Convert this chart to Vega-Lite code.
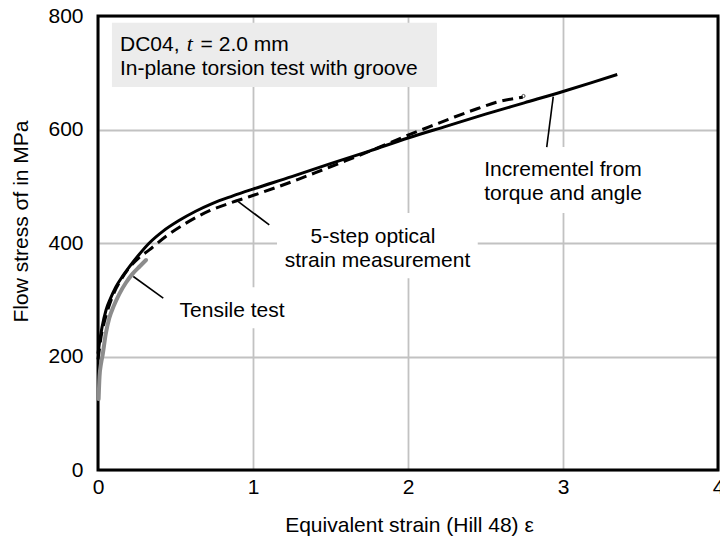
{
  "$schema": "https://vega.github.io/schema/vega-lite/v6.json",
  "width": 620,
  "height": 454,
  "autosize": "none",
  "padding": {"left": 98, "top": 16, "right": 2, "bottom": 72},
  "background": "white",
  "config": {
    "view": {"stroke": null},
    "font": "Liberation Sans",
    "axis": {
      "domain": false,
      "ticks": false,
      "labelFlush": false,
      "labelOverlap": false,
      "gridColor": "#c2c2c2",
      "gridWidth": 1.8,
      "labelFont": "Liberation Sans",
      "labelFontSize": 21,
      "labelColor": "#000",
      "titleFont": "Liberation Sans",
      "titleFontSize": 21,
      "titleFontWeight": "normal",
      "titleColor": "#000"
    }
  },
  "datasets": {
    "curves": [
      {"series": "Incremental", "strain": 0.0, "stress": 205},
      {"series": "Incremental", "strain": 0.01, "stress": 225},
      {"series": "Incremental", "strain": 0.025, "stress": 250},
      {"series": "Incremental", "strain": 0.052, "stress": 282},
      {"series": "Incremental", "strain": 0.08, "stress": 302},
      {"series": "Incremental", "strain": 0.116, "stress": 323},
      {"series": "Incremental", "strain": 0.16, "stress": 342},
      {"series": "Incremental", "strain": 0.202, "stress": 358},
      {"series": "Incremental", "strain": 0.26, "stress": 378},
      {"series": "Incremental", "strain": 0.331, "stress": 400},
      {"series": "Incremental", "strain": 0.42, "stress": 421},
      {"series": "Incremental", "strain": 0.525, "stress": 440},
      {"series": "Incremental", "strain": 0.63, "stress": 456},
      {"series": "Incremental", "strain": 0.74, "stress": 470},
      {"series": "Incremental", "strain": 0.87, "stress": 483},
      {"series": "Incremental", "strain": 1.0, "stress": 495},
      {"series": "Incremental", "strain": 1.25, "stress": 517},
      {"series": "Incremental", "strain": 1.5, "stress": 540},
      {"series": "Incremental", "strain": 1.75, "stress": 562},
      {"series": "Incremental", "strain": 2.0, "stress": 585},
      {"series": "Incremental", "strain": 2.25, "stress": 606},
      {"series": "Incremental", "strain": 2.5, "stress": 627},
      {"series": "Incremental", "strain": 2.75, "stress": 647},
      {"series": "Incremental", "strain": 3.0, "stress": 667},
      {"series": "Incremental", "strain": 3.2, "stress": 684},
      {"series": "Incremental", "strain": 3.35, "stress": 697},
      {"series": "Optical", "strain": 0.0, "stress": 195},
      {"series": "Optical", "strain": 0.01, "stress": 215},
      {"series": "Optical", "strain": 0.02, "stress": 235},
      {"series": "Optical", "strain": 0.04, "stress": 260},
      {"series": "Optical", "strain": 0.07, "stress": 288},
      {"series": "Optical", "strain": 0.1, "stress": 310},
      {"series": "Optical", "strain": 0.15, "stress": 336},
      {"series": "Optical", "strain": 0.2, "stress": 356},
      {"series": "Optical", "strain": 0.26, "stress": 373},
      {"series": "Optical", "strain": 0.331, "stress": 388},
      {"series": "Optical", "strain": 0.45, "stress": 414},
      {"series": "Optical", "strain": 0.568, "stress": 435},
      {"series": "Optical", "strain": 0.72, "stress": 457},
      {"series": "Optical", "strain": 0.847, "stress": 470},
      {"series": "Optical", "strain": 0.98, "stress": 482},
      {"series": "Optical", "strain": 1.15, "stress": 498},
      {"series": "Optical", "strain": 1.3, "stress": 513},
      {"series": "Optical", "strain": 1.45, "stress": 529},
      {"series": "Optical", "strain": 1.6, "stress": 545},
      {"series": "Optical", "strain": 1.8, "stress": 567},
      {"series": "Optical", "strain": 2.0, "stress": 590},
      {"series": "Optical", "strain": 2.14, "stress": 605},
      {"series": "Optical", "strain": 2.3, "stress": 622},
      {"series": "Optical", "strain": 2.45, "stress": 637},
      {"series": "Optical", "strain": 2.57, "stress": 648},
      {"series": "Optical", "strain": 2.74, "stress": 657},
      {"series": "Tensile", "strain": 0.004, "stress": 125},
      {"series": "Tensile", "strain": 0.01, "stress": 165},
      {"series": "Tensile", "strain": 0.02, "stress": 188},
      {"series": "Tensile", "strain": 0.03, "stress": 203},
      {"series": "Tensile", "strain": 0.05, "stress": 240},
      {"series": "Tensile", "strain": 0.073, "stress": 268},
      {"series": "Tensile", "strain": 0.1, "stress": 288},
      {"series": "Tensile", "strain": 0.137, "stress": 310},
      {"series": "Tensile", "strain": 0.18, "stress": 330},
      {"series": "Tensile", "strain": 0.224, "stress": 346},
      {"series": "Tensile", "strain": 0.27, "stress": 359},
      {"series": "Tensile", "strain": 0.31, "stress": 370}
    ],
    "boxes": [
      {"kind": "info", "x0": 0.09, "x1": 2.187, "y0": 675, "y1": 788},
      {"kind": "clear", "x0": 0.47, "x1": 1.27, "y0": 250, "y1": 322},
      {"kind": "clear", "x0": 1.155, "x1": 2.45, "y0": 338, "y1": 453},
      {"kind": "clear", "x0": 2.43, "x1": 3.56, "y0": 453, "y1": 569}
    ],
    "frame": [{"x0": 0, "x1": 4, "y0": 0, "y1": 800}],
    "leaders": [
      {"x0": 0.228, "y0": 341, "x1": 0.421, "y1": 303},
      {"x0": 0.905, "y0": 473, "x1": 1.105, "y1": 432},
      {"x0": 2.937, "y0": 658, "x1": 2.895, "y1": 569}
    ],
    "callouts": [
      {"text": "Incrementel from", "x": 3.0, "y": 518.6},
      {"text": "torque and angle", "x": 3.0, "y": 475.8},
      {"text": "5-step optical", "x": 1.774, "y": 400.5},
      {"text": "strain measurement", "x": 1.803, "y": 357.2},
      {"text": "Tensile test", "x": 0.865, "y": 270.1}
    ],
    "infoText": [
      {"text": "DC04,", "x": 0.142, "y": 738.3},
      {"text": "= 2.0 mm", "x": 0.662, "y": 738.3},
      {"text": "In-plane torsion test with groove", "x": 0.142, "y": 696}
    ],
    "infoItalic": [
      {"text": "t", "x": 0.573, "y": 738.3}
    ],
    "endMarker": [{"strain": 2.745, "stress": 659}]
  },
  "layer": [
    {
      "data": {"name": "boxes"},
      "mark": {"type": "rect"},
      "encoding": {
        "x": {
          "field": "x0", "type": "quantitative",
          "scale": {"domain": [0, 4], "nice": false, "zero": false},
          "axis": {
            "values": [0, 1, 2, 3, 4],
            "format": "d",
            "labelPadding": 6,
            "title": "Equivalent strain (Hill 48)  ε",
            "titleX": 311,
            "titleY": 61,
            "titleBaseline": "alphabetic"
          }
        },
        "x2": {"field": "x1"},
        "y": {
          "field": "y0", "type": "quantitative",
          "scale": {"domain": [0, 800], "nice": false},
          "axis": {
            "values": [0, 200, 400, 600, 800],
            "format": "d",
            "labelPadding": 15,
            "title": "Flow stress σf in MPa",
            "titleX": -71,
            "titleY": 205,
            "titleBaseline": "alphabetic"
          }
        },
        "y2": {"field": "y1"},
        "fill": {
          "field": "kind", "type": "nominal",
          "scale": {"domain": ["info", "clear"], "range": ["#ececec", "#ffffff"]},
          "legend": null
        }
      }
    },
    {
      "data": {"name": "frame"},
      "mark": {"type": "rect", "fillOpacity": 0, "stroke": "#000", "strokeWidth": 3},
      "encoding": {
        "x": {"field": "x0", "type": "quantitative"},
        "x2": {"field": "x1"},
        "y": {"field": "y0", "type": "quantitative"},
        "y2": {"field": "y1"}
      }
    },
    {
      "data": {"name": "curves"},
      "transform": [{"filter": "datum.series === 'Tensile'"}],
      "mark": {"type": "line", "color": "#8c8c8c", "strokeWidth": 4, "strokeCap": "round", "interpolate": "monotone"},
      "encoding": {
        "x": {"field": "strain", "type": "quantitative"},
        "y": {"field": "stress", "type": "quantitative"}
      }
    },
    {
      "data": {"name": "curves"},
      "transform": [{"filter": "datum.series === 'Optical'"}],
      "mark": {"type": "line", "color": "#000", "strokeWidth": 3, "strokeDash": [11, 6], "interpolate": "monotone"},
      "encoding": {
        "x": {"field": "strain", "type": "quantitative"},
        "y": {"field": "stress", "type": "quantitative"}
      }
    },
    {
      "data": {"name": "curves"},
      "transform": [{"filter": "datum.series === 'Incremental'"}],
      "mark": {"type": "line", "color": "#000", "strokeWidth": 3, "interpolate": "monotone"},
      "encoding": {
        "x": {"field": "strain", "type": "quantitative"},
        "y": {"field": "stress", "type": "quantitative"}
      }
    },
    {
      "data": {"name": "endMarker"},
      "mark": {"type": "point", "shape": "circle", "size": 10, "filled": false, "color": "#000", "strokeWidth": 1},
      "encoding": {
        "x": {"field": "strain", "type": "quantitative"},
        "y": {"field": "stress", "type": "quantitative"}
      }
    },
    {
      "data": {"name": "leaders"},
      "mark": {"type": "rule", "color": "#000", "strokeWidth": 1.6},
      "encoding": {
        "x": {"field": "x0", "type": "quantitative"},
        "y": {"field": "y0", "type": "quantitative"},
        "x2": {"field": "x1"},
        "y2": {"field": "y1"}
      }
    },
    {
      "data": {"name": "callouts"},
      "mark": {"type": "text", "font": "Liberation Sans", "fontSize": 21, "align": "center", "baseline": "alphabetic", "color": "#000"},
      "encoding": {
        "x": {"field": "x", "type": "quantitative"},
        "y": {"field": "y", "type": "quantitative"},
        "text": {"field": "text"}
      }
    },
    {
      "data": {"name": "infoText"},
      "mark": {"type": "text", "font": "Liberation Sans", "fontSize": 21, "align": "left", "baseline": "alphabetic", "color": "#000"},
      "encoding": {
        "x": {"field": "x", "type": "quantitative"},
        "y": {"field": "y", "type": "quantitative"},
        "text": {"field": "text"}
      }
    },
    {
      "data": {"name": "infoItalic"},
      "mark": {"type": "text", "font": "Liberation Serif", "fontStyle": "italic", "fontSize": 22, "align": "left", "baseline": "alphabetic", "color": "#000"},
      "encoding": {
        "x": {"field": "x", "type": "quantitative"},
        "y": {"field": "y", "type": "quantitative"},
        "text": {"field": "text"}
      }
    }
  ]
}
